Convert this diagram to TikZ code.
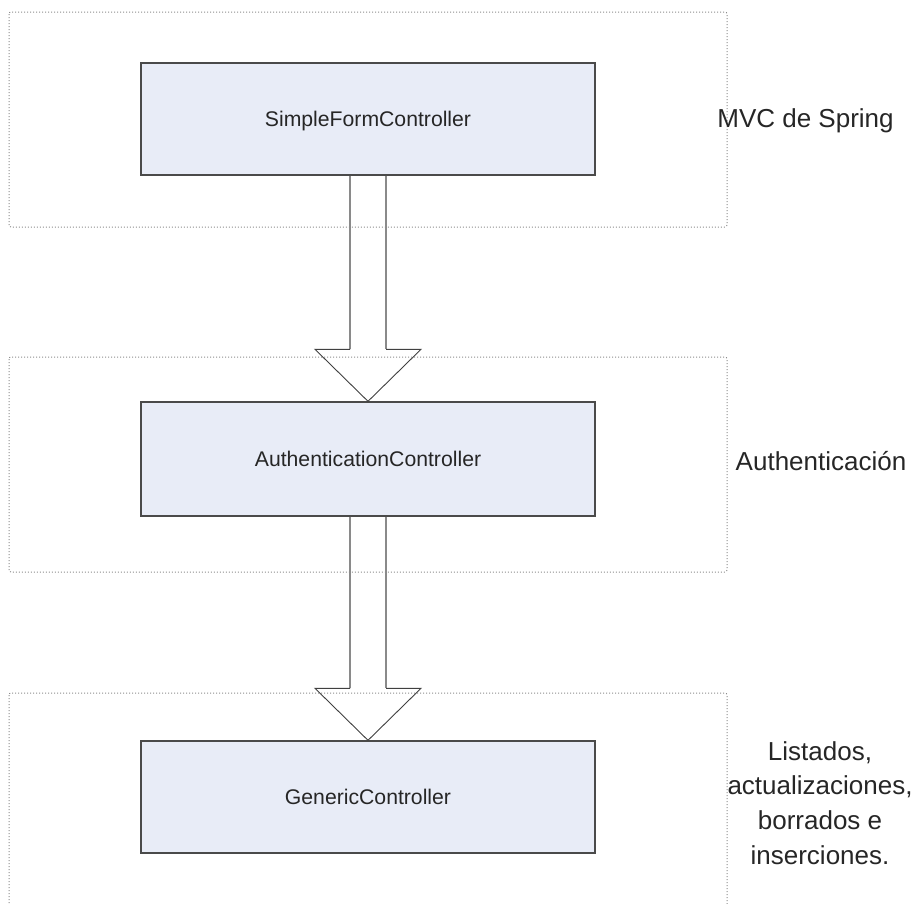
\documentclass[tikz,border=0pt]{standalone}
\usepackage{fontspec}
\setmainfont{Liberation Sans}
\usetikzlibrary{calc}
\definecolor{boxfill}{HTML}{E8ECF7}
\definecolor{boxline}{HTML}{4A4A4A}
\definecolor{zoneline}{HTML}{8C8C8C}
\definecolor{shaftline}{HTML}{8A8A8A}

\begin{document}
\begin{tikzpicture}[x=1pt, y=-1pt,
    ctrl/.style={draw=boxline, fill=boxfill, line width=1.4pt, minimum width=454pt,
        minimum height=112pt, inner sep=0pt, text height=15.4pt, text depth=0pt,
        text=black!85, font=\fontsize{21.2}{24}\selectfont},
    zone/.style={draw=zoneline, dotted, line width=1pt, rounded corners=2pt},
    layer/.style={align=center, text=black!85, font=\fontsize{26}{34.7}\selectfont},
    shaft/.style={draw=shaftline, line width=1.4pt},
    head/.style={draw=black!75, line width=0.9pt}]
        \clip (0,0) rectangle (917,903);

        % Layers (dotted zones)
        \draw[zone] (9,12) rectangle (727,227);
        \draw[zone] (9,357) rectangle (727,572);
        \draw[zone] (9,693) rectangle (727,920);

        % Controllers
        \node[ctrl] (sfc) at (368,119) {SimpleFormController};
        \node[ctrl, minimum height=114pt] (auth) at (368,459) {AuthenticationController};
        \node[ctrl] (gen) at (368,797) {GenericController};

        % Layer names
        \node[layer, anchor=base] (mvc) at (805.5,127.7) {MVC de Spring};
        \node[layer, anchor=base] (authlbl) at (821,470) {Authenticación};
        \node[layer] (crud) at (820,803) {Listados,\\actualizaciones,\\borrados e\\inserciones.};

        % Inheritance arrows
        \foreach \from/\to in {sfc/auth, auth/gen} {
            \draw[shaft] ($(\from.south)+(-18,0)$) -- ($(\to.north)+(-18,-52)$);
            \draw[shaft] ($(\from.south)+(18,0)$) -- ($(\to.north)+(18,-52)$);
            \draw[head] ($(\to.north)+(-18,-52)$) -- ($(\to.north)+(-53,-52)$) -- (\to.north)
                -- ($(\to.north)+(53,-52)$) -- ($(\to.north)+(18,-52)$);
        }
    \end{tikzpicture}
\end{document}
